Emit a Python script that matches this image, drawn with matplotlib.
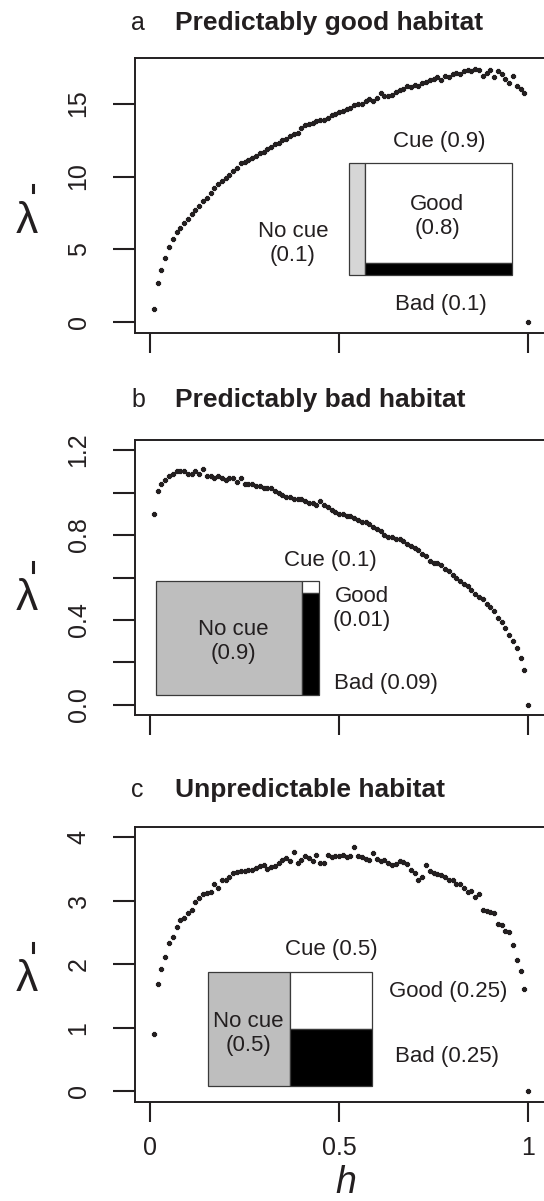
import matplotlib.pyplot as plt
import numpy as np
from matplotlib.lines import Line2D
from matplotlib.patches import Rectangle

plt.rcParams["font.family"] = ["Liberation Sans", "DejaVu Sans"]

INK = "#231f20"
EDGE = "#3a3a3a"

# proportion of habitat with a (good) cue, h = 0.01 ... 1.00
h = np.round(np.arange(1, 101) * 0.01, 2)

# mean growth rate, predictably good habitat
lam_good = [
    0.9, 2.7, 3.6, 4.4, 5.2, 5.7, 6.2, 6.5, 6.8, 7.1,
    7.4, 7.7, 8.0, 8.3, 8.5, 8.9, 9.2, 9.5, 9.7, 9.9,
    10.1, 10.4, 10.6, 10.9, 11.0, 11.1, 11.3, 11.4, 11.6, 11.7,
    11.9, 12.0, 12.2, 12.3, 12.5, 12.6, 12.8, 12.9, 13.0, 13.3,
    13.5, 13.6, 13.7, 13.8, 13.9, 13.9, 14.0, 14.2, 14.3, 14.4,
    14.5, 14.6, 14.7, 14.9, 15.0, 15.0, 15.2, 15.3, 15.2, 15.4,
    15.7, 15.5, 15.5, 15.6, 15.8, 15.9, 16.0, 16.2, 16.1, 16.3,
    16.2, 16.4, 16.5, 16.6, 16.7, 16.8, 16.6, 16.9, 16.8, 17.0,
    17.1, 17.0, 17.2, 17.3, 17.2, 17.4, 17.3, 16.9, 17.1, 17.3,
    16.8, 17.2, 17.0, 16.7, 16.4, 16.9, 16.2, 16.0, 15.7, 0.0,
]

# mean growth rate, predictably bad habitat
lam_bad = [
    0.90, 1.01, 1.04, 1.06, 1.08, 1.09, 1.10, 1.10, 1.10, 1.09,
    1.09, 1.10, 1.09, 1.11, 1.08, 1.08, 1.07, 1.08, 1.07, 1.06,
    1.07, 1.07, 1.05, 1.07, 1.04, 1.04, 1.04, 1.03, 1.03, 1.02,
    1.02, 1.02, 1.01, 1.00, 0.99, 0.98, 0.98, 0.97, 0.97, 0.97,
    0.96, 0.95, 0.95, 0.94, 0.96, 0.94, 0.93, 0.92, 0.91, 0.90,
    0.90, 0.89, 0.89, 0.88, 0.87, 0.86, 0.86, 0.85, 0.84, 0.83,
    0.82, 0.80, 0.79, 0.79, 0.78, 0.78, 0.77, 0.76, 0.75, 0.74,
    0.73, 0.71, 0.70, 0.68, 0.67, 0.67, 0.66, 0.64, 0.63, 0.61,
    0.60, 0.585, 0.57, 0.56, 0.54, 0.52, 0.51, 0.50, 0.475, 0.46,
    0.44, 0.41, 0.39, 0.36, 0.33, 0.30, 0.27, 0.22, 0.165, 0.0,
]

# mean growth rate, unpredictable habitat
lam_unpred = [
    0.90, 1.69, 1.93, 2.11, 2.33, 2.43, 2.59, 2.69, 2.72, 2.80,
    2.86, 2.98, 3.05, 3.10, 3.12, 3.14, 3.27, 3.20, 3.32, 3.33,
    3.38, 3.44, 3.46, 3.47, 3.47, 3.48, 3.49, 3.52, 3.55, 3.56,
    3.50, 3.53, 3.54, 3.60, 3.64, 3.67, 3.62, 3.77, 3.60, 3.64,
    3.70, 3.68, 3.62, 3.72, 3.59, 3.59, 3.72, 3.69, 3.70, 3.70,
    3.72, 3.69, 3.70, 3.84, 3.70, 3.69, 3.66, 3.64, 3.75, 3.66,
    3.62, 3.64, 3.60, 3.57, 3.58, 3.63, 3.61, 3.58, 3.48, 3.43,
    3.33, 3.38, 3.56, 3.47, 3.43, 3.42, 3.40, 3.38, 3.33, 3.32,
    3.27, 3.27, 3.20, 3.14, 3.16, 3.06, 3.10, 2.86, 2.84, 2.82,
    2.80, 2.64, 2.62, 2.53, 2.51, 2.31, 2.07, 1.90, 1.61, 0.0,
]

letters = ["a", "b", "c"]
titles = ["Predictably good habitat", "Predictably bad habitat", "Unpredictable habitat"]

# habitat probabilities: cue, good, bad
p_cue = [0.9, 0.1, 0.5]
p_good = [0.8, 0.01, 0.25]
p_bad = [0.1, 0.09, 0.25]

cue_labels = ["Cue (0.9)", "Cue (0.1)", "Cue (0.5)"]
good_labels = ["Good\n(0.8)", "Good\n(0.01)", "Good (0.25)"]
nocue_labels = ["No cue\n(0.1)", "No cue\n(0.9)", "No cue\n(0.5)"]
bad_labels = ["Bad (0.1)", "Bad (0.09)", "Bad (0.25)"]

yticks = [[0, 5, 10, 15], [0, 0.2, 0.4, 0.6, 0.8, 1.0, 1.2], [0, 1, 2, 3, 4]]
ytick_labels = [["0", "5", "10", "15"], ["0.0", "", "0.4", "", "0.8", "", "1.2"],
                ["0", "1", "2", "3", "4"]]
xticks = [0, 0.5, 1]
xtick_labels = ["0", "0.5", "1"]

W, H = 544, 1201
fig = plt.figure(figsize=(W / 100, H / 100), dpi=100)

series = [lam_good, lam_bad, lam_unpred]
ylims = [(-0.70, 18.14), (-0.048, 1.248), (-0.166, 4.166)]
ax_tops = [57.7, 440, 826.7]
title_base = [30, 406.7, 796.7]
nocue_fill = ["#d6d6d6", "#bebebe", "#bebebe"]

# mosaic box (x0, x1, y0, y1) and label anchors, data units per panel
boxes = [(0.526, 0.958, 3.24, 10.93), (0.015, 0.446, 0.047, 0.582), (0.152, 0.586, 0.087, 1.877)]
cue_xy = [(0.765, 12.37), (0.477, 0.680), (0.479, 2.235)]
good_xy = [(0.759, 7.28), (0.561, 0.4525), (0.788, 1.572)]
nocue_xy = [(0.378, 5.43), (0.2196, 0.298), (0.259, 0.908)]
bad_xy = [(0.770, 1.25), (0.624, 0.1026), (0.786, 0.545)]

# lambda label and its bar, pixel rows
lam_base = [233, 610, 991]
bar_rows = [(185, 192), (562, 572), (943, 952)]


def draw_mosaic(ax, i):
    x0, x1, y0, y1 = boxes[i]
    xs = x0 + (1 - p_cue[i]) * (x1 - x0)
    yb = y0 + p_bad[i] / p_cue[i] * (y1 - y0)
    kw = dict(ec=EDGE, lw=0.9, zorder=3)
    ax.add_patch(Rectangle((x0, y0), xs - x0, y1 - y0, fc=nocue_fill[i], **kw))
    ax.add_patch(Rectangle((xs, yb), x1 - xs, y1 - yb, fc="white", **kw))
    ax.add_patch(Rectangle((xs, y0), x1 - xs, yb - y0, fc="black", **kw))


for i in range(3):
    top = ax_tops[i]
    # right edge runs just past the figure, so the right frame line is cut off
    ax = fig.add_axes([135 / W, 1 - (top + 275) / H, 412 / W, 275 / H])
    ax.scatter(h, series[i], marker="P", s=12, color=INK, edgecolors=INK,
               linewidths=0.9, zorder=4)
    ax.set_xlim(-0.04, 1.05)
    ax.set_ylim(*ylims[i])

    for side in ["top", "right", "bottom", "left"]:
        ax.spines[side].set_linewidth(1.4)
        ax.spines[side].set_color(INK)

    ax.set_yticks(yticks[i])
    ax.set_yticklabels(ytick_labels[i], rotation=90, va="center")
    ax.set_xticks(xticks)
    ax.set_xticklabels(xtick_labels if i == 2 else ["", "", ""])
    ax.tick_params(axis="y", length=16, width=1.5, color=INK, pad=16,
                   labelsize=18, labelcolor=INK)
    ax.tick_params(axis="x", length=14.5, width=1.5, color=INK, pad=10,
                   labelsize=18, labelcolor=INK)

    draw_mosaic(ax, i)
    txt = dict(ha="center", va="center", fontsize=16, color=INK, zorder=5)
    ax.text(*cue_xy[i], cue_labels[i], **txt)
    ax.text(*good_xy[i], good_labels[i], **txt)
    ax.text(*nocue_xy[i], nocue_labels[i], **txt)
    ax.text(*bad_xy[i], bad_labels[i], **txt)

    fig.text(131 / W, 1 - title_base[i] / H, letters[i], fontsize=18,
             va="baseline", ha="left", color=INK)
    fig.text(175 / W, 1 - title_base[i] / H, titles[i], fontsize=19,
             fontweight="bold", va="baseline", ha="left", color=INK)

    fig.text(27 / W, 1 - lam_base[i] / H, "\u03bb", fontsize=32,
             va="baseline", ha="center", color=INK)
    r0, r1 = bar_rows[i]
    fig.add_artist(Line2D([32.5 / W, 32.5 / W], [1 - r0 / H, 1 - r1 / H],
                          transform=fig.transFigure, color=INK, lw=2.2))

fig.text(346 / W, 1 - 1193 / H, "h", fontsize=27, style="italic",
         va="baseline", ha="center", color=INK)

fig.savefig("out.png", dpi=100)
